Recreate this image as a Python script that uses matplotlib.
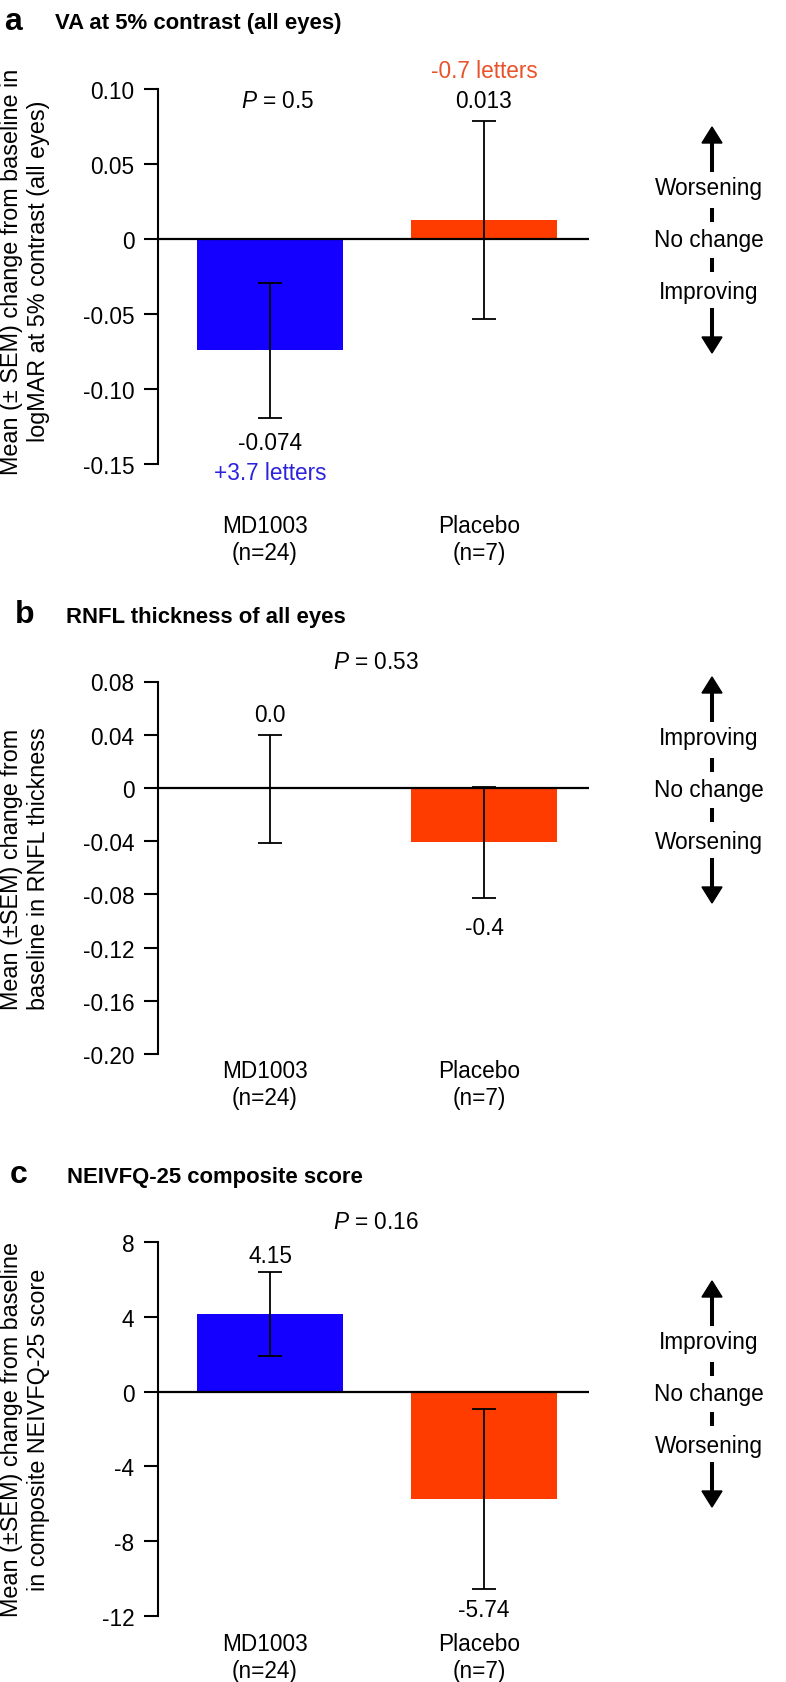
import matplotlib
matplotlib.use('Agg')
import matplotlib.pyplot as plt
from matplotlib.patches import Polygon
from matplotlib.transforms import ScaledTranslation

plt.rcParams['font.family'] = ['Liberation Sans', 'DejaVu Sans']
plt.rcParams['axes.unicode_minus'] = False
plt.rcParams['mathtext.fontset'] = 'custom'
plt.rcParams['mathtext.rm'] = 'Liberation Sans'
plt.rcParams['mathtext.it'] = 'Liberation Sans:italic'

# data
groups = ['MD1003\n(n=24)', 'Placebo\n(n=7)']
bar_colors = ['#1400FF', '#FF3C00']

va_mean = [-0.074, 0.013]
va_sem = [0.045, 0.066]
va_labels = ['-0.074', '0.013']
va_letters = ['+3.7 letters', '-0.7 letters']
va_ticks = [0.10, 0.05, 0, -0.05, -0.10, -0.15]
va_ticklabels = ['0.10', '0.05', '0', '-0.05', '-0.10', '-0.15']

rnfl_mean = [-0.001, -0.041]
rnfl_sem = [0.0405, 0.042]
rnfl_labels = ['0.0', '-0.4']
rnfl_ticks = [0.08, 0.04, 0, -0.04, -0.08, -0.12, -0.16, -0.20]
rnfl_ticklabels = ['0.08', '0.04', '0', '-0.04', '-0.08', '-0.12', '-0.16', '-0.20']

nei_mean = [4.15, -5.74]
nei_sem = [2.25, 4.8]
nei_labels = ['4.15', '-5.74']
nei_ticks = [8, 4, 0, -4, -8, -12]
nei_ticklabels = ['8', '4', '0', '-4', '-8', '-12']

p_values = ['0.5', '0.53', '0.16']

FS = 16.3
W, H = 786, 1683
L, R = 158, 589
fig = plt.figure(figsize=(W / 100, H / 100), dpi=100)

# overlay in pixel coords for titles, labels and arrows
ov = fig.add_axes([0, 0, 1, 1])
ov.set_xlim(0, W)
ov.set_ylim(H, 0)
ov.axis('off')


def panel(top, bottom, means, sems, labels, ticks, ticklabels, up, down, xpad):
    ax = fig.add_axes([L / W, 1 - bottom / H, (R - L) / W, (bottom - top) / H])
    x = [0, 1]
    ax.bar(x, means, width=0.682, color=bar_colors, zorder=1)
    ax.errorbar(x, means, yerr=sems, fmt='none', ecolor='k', elinewidth=1.3,
                capsize=8.3, capthick=1.3, zorder=3)
    ax.axhline(0, color='k', lw=1.6, zorder=2)
    ax.set_xlim(-0.5234, 1.4907)
    ax.set_ylim(ticks[-1], ticks[0])
    ax.set_yticks(ticks, ticklabels)
    ax.set_xticks(x, groups)
    ax.tick_params(axis='x', length=0, pad=xpad, labelsize=FS)
    ax.tick_params(axis='y', length=10, width=1.5, pad=7, labelsize=FS)
    shift = ScaledTranslation(-5 / 100, 0, fig.dpi_scale_trans)
    for t in ax.get_xticklabels():
        t.set_transform(t.get_transform() + shift)
    for s in ['top', 'right', 'bottom']:
        ax.spines[s].set_visible(False)
    ax.spines['left'].set_linewidth(1.5)
    ax.patch.set_visible(False)
    for i in range(2):
        if float(labels[i]) >= 0:
            ax.annotate(labels[i], (x[i], means[i] + sems[i]), xytext=(0, up),
                        textcoords='offset points', ha='center', va='baseline', fontsize=FS)
        else:
            ax.annotate(labels[i], (x[i], means[i] - sems[i]), xytext=(0, -down),
                        textcoords='offset points', ha='center', va='top', fontsize=FS)
    return ax


def direction(y0, top_txt, bot_txt):
    x, tx = 712, 709
    ov.text(tx, y0, 'No change', ha='center', va='center', fontsize=FS)
    ov.text(tx, y0 - 52, top_txt, ha='center', va='center', fontsize=FS)
    ov.text(tx, y0 + 52, bot_txt, ha='center', va='center', fontsize=FS)
    for s in (-1, 1):
        ov.plot([x, x], [y0 + s * 18, y0 + s * 32], color='k', lw=2.9, solid_capstyle='butt')
        ov.plot([x, x], [y0 + s * 68, y0 + s * 98], color='k', lw=2.9, solid_capstyle='butt')
        ov.add_patch(Polygon([(x - 10, y0 + s * 97), (x + 10, y0 + s * 97), (x, y0 + s * 113)],
                             closed=True, color='k'))


# panel a
axa = panel(90.3, 465, va_mean, va_sem, va_labels, va_ticks, va_ticklabels, 10, 9.6, 36)
letter_colors = ['#2C24DC', '#E9522B']
for i in range(2):
    if float(va_labels[i]) >= 0:
        axa.annotate(va_letters[i], (i, va_mean[i] + va_sem[i]), xytext=(0, 31.3),
                     textcoords='offset points', ha='center', va='baseline', fontsize=FS,
                     color=letter_colors[i])
    else:
        axa.annotate(va_letters[i], (i, va_mean[i] - va_sem[i]), xytext=(0, -31.6),
                     textcoords='offset points', ha='center', va='top', fontsize=FS,
                     color=letter_colors[i])
ov.text(4, 30, 'a', fontsize=23, weight='bold')
ov.text(55, 29.3, 'VA at 5% contrast (all eyes)', fontsize=15.9, weight='bold')
ov.text(278, 107.7, '$P$ = ' + p_values[0], ha='center', va='baseline', fontsize=FS)
ov.text(25, 271.6, 'Mean (± SEM) change from baseline in\nlogMAR at 5% contrast (all eyes)',
        rotation=90, ha='center', va='center', fontsize=16.8)
direction(241, 'Worsening', 'Improving')

# panel b
panel(682.5, 1055, rnfl_mean, rnfl_sem, rnfl_labels, rnfl_ticks, rnfl_ticklabels, 10, 13, 3.6)
ov.text(15, 623.5, 'b', fontsize=23, weight='bold')
ov.text(65.5, 623, 'RNFL thickness of all eyes', fontsize=15.9, weight='bold')
ov.text(375.5, 669, '$P$ = ' + p_values[1], ha='center', va='baseline', fontsize=FS)
ov.text(25, 869, 'Mean (±SEM) change from\nbaseline in RNFL thickness',
        rotation=90, ha='center', va='center', fontsize=16.8)
direction(791, 'Improving', 'Worsening')

# panel c
panel(1243, 1617, nei_mean, nei_sem, nei_labels, nei_ticks, nei_ticklabels, 7, 7, 11.5)
ov.text(10, 1183, 'c', fontsize=23, weight='bold')
ov.text(67, 1183, 'NEIVFQ-25 composite score', fontsize=15.9, weight='bold')
ov.text(375.5, 1229.5, '$P$ = ' + p_values[2], ha='center', va='baseline', fontsize=FS)
ov.text(25, 1430, 'Mean (±SEM) change from baseline\nin composite NEIVFQ-25 score',
        rotation=90, ha='center', va='center', fontsize=16.8)
direction(1395, 'Improving', 'Worsening')

fig.savefig('out.png', dpi=100)
